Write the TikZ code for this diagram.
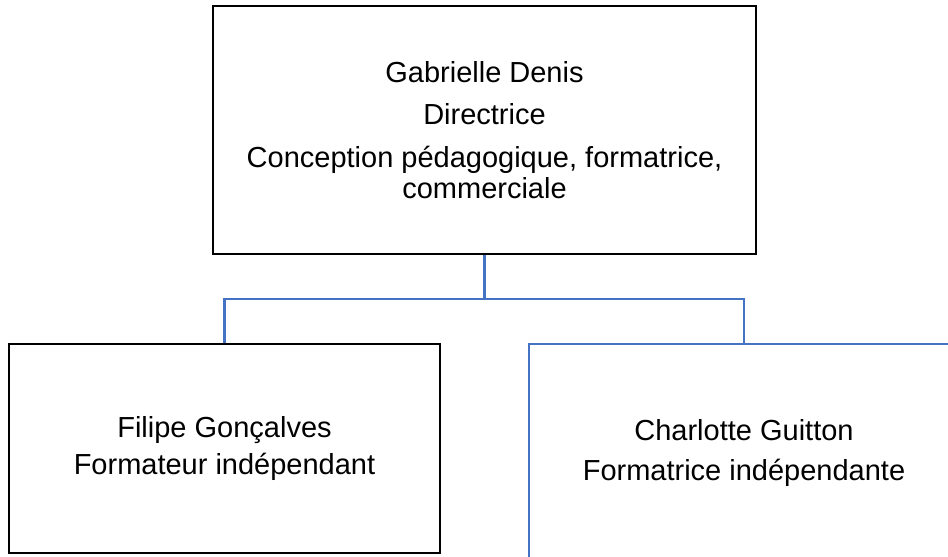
\documentclass[tikz,border=0pt]{standalone}
\usepackage{fontspec}
\setmainfont{Liberation Sans}
\definecolor{offblue}{RGB}{68,114,196}
\begin{document}
\begin{tikzpicture}[x=1pt,y=-1pt,
  box/.style={draw=black,line width=2.4pt,rectangle,align=center,inner sep=0pt,
    font=\fontsize{29}{31}\selectfont},
  bluebox/.style={box,draw=offblue,line width=2.2pt},
  link/.style={draw=offblue,line width=2.2pt}]
\useasboundingbox (0,0) rectangle (948,557);
\node[box,minimum width=543pt,minimum height=248pt] (top) at (484.5,130)
  {Gabrielle Denis\\[11.5pt]Directrice\\[12pt]Conception pédagogique, formatrice,\\commerciale};
\node[box,minimum width=431pt,minimum height=209pt] (left) at (224.5,448.5)
  {Filipe Gonçalves\\[6pt]Formateur indépendant};
\node[bluebox,minimum width=430pt,minimum height=218pt] (right) at (744,453)
  {Charlotte Guitton\\[9pt]Formatrice indépendante};
\coordinate (mid) at (484.5,299);
\draw[link] (top.south) -- (mid) -| (left.north);
\draw[link] (mid) -| (right.north);
\end{tikzpicture}
\end{document}
